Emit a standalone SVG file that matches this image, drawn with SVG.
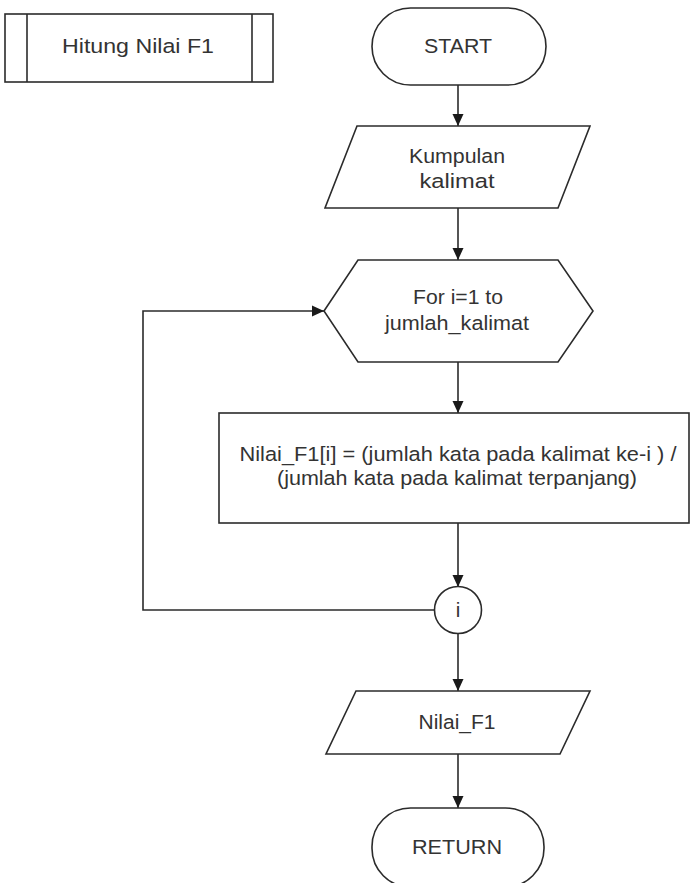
<svg xmlns="http://www.w3.org/2000/svg" width="690" height="883" viewBox="0 0 690 883">
  <style>
    .shape { fill: #ffffff; stroke: #2b2b2b; stroke-width: 1.6; }
    .line { fill: none; stroke: #2b2b2b; stroke-width: 1.6; }
    .label { font-family: "Liberation Sans", Arial, sans-serif; font-size: 20.5px; fill: #333333; text-anchor: middle; }
  </style>
  <defs>
    <marker id="arrow" markerUnits="userSpaceOnUse" markerWidth="12" markerHeight="14" viewBox="0 0 12 14" refX="12" refY="7" orient="auto">
      <path d="M0,1.5 L12,7 L0,12.5 Z" fill="#1a1a1a"/>
    </marker>
  </defs>
  <rect width="690" height="883" fill="#ffffff"/>

  <!-- subroutine title box -->
  <g id="title">
    <rect class="shape" x="5" y="14" width="268" height="68"/>
    <line class="line" x1="27" y1="14" x2="27" y2="82"/>
    <line class="line" x1="252" y1="14" x2="252" y2="82"/>
    <text class="label" x="138" y="53" textLength="152" lengthAdjust="spacingAndGlyphs">Hitung Nilai F1</text>
  </g>

  <g id="connectors">
    <line class="line" x1="458" y1="85" x2="458" y2="126" marker-end="url(#arrow)"/>
    <line class="line" x1="458" y1="208" x2="458" y2="260" marker-end="url(#arrow)"/>
    <line class="line" x1="458" y1="362" x2="458" y2="413" marker-end="url(#arrow)"/>
    <line class="line" x1="458" y1="523" x2="458" y2="587" marker-end="url(#arrow)"/>
    <line class="line" x1="458" y1="634" x2="458" y2="691" marker-end="url(#arrow)"/>
    <line class="line" x1="458" y1="754" x2="458" y2="808" marker-end="url(#arrow)"/>
    <polyline class="line" points="434,610 143,610 143,311 324,311" marker-end="url(#arrow)"/>
  </g>

  <g id="start">
    <rect class="shape" x="372" y="8" width="174" height="77" rx="38.5" ry="38.5"/>
    <text class="label" x="458" y="53" textLength="68" lengthAdjust="spacingAndGlyphs">START</text>
  </g>

  <g id="input">
    <polygon class="shape" points="357,126 590,126 558,208 325,208"/>
    <text class="label" x="457" y="163" textLength="96" lengthAdjust="spacingAndGlyphs">Kumpulan</text>
    <text class="label" x="457" y="188" textLength="75" lengthAdjust="spacingAndGlyphs">kalimat</text>
  </g>

  <g id="loop">
    <polygon class="shape" points="324,311 358,260 558,260 593,311 558,362 358,362"/>
    <text class="label" x="458" y="304" textLength="90" lengthAdjust="spacingAndGlyphs">For i=1 to</text>
    <text class="label" x="457" y="330" textLength="144" lengthAdjust="spacingAndGlyphs">jumlah_kalimat</text>
  </g>

  <g id="process">
    <rect class="shape" x="219" y="413" width="470" height="110"/>
    <text class="label" x="458" y="461" textLength="437" lengthAdjust="spacingAndGlyphs">Nilai_F1[i] = (jumlah kata pada kalimat ke-i ) /</text>
    <text class="label" x="457" y="485" textLength="360" lengthAdjust="spacingAndGlyphs">(jumlah kata pada kalimat terpanjang)</text>
  </g>

  <g id="connector-i">
    <circle class="shape" cx="458" cy="610" r="23.5"/>
    <text class="label" x="458" y="617">i</text>
  </g>

  <g id="output">
    <polygon class="shape" points="356,691 590,691 560,754 326,754"/>
    <text class="label" x="457" y="729" textLength="77" lengthAdjust="spacingAndGlyphs">Nilai_F1</text>
  </g>

  <g id="return">
    <rect class="shape" x="372" y="808" width="172" height="79" rx="38.5" ry="38.5"/>
    <text class="label" x="457" y="854" textLength="90" lengthAdjust="spacingAndGlyphs">RETURN</text>
  </g>
</svg>
